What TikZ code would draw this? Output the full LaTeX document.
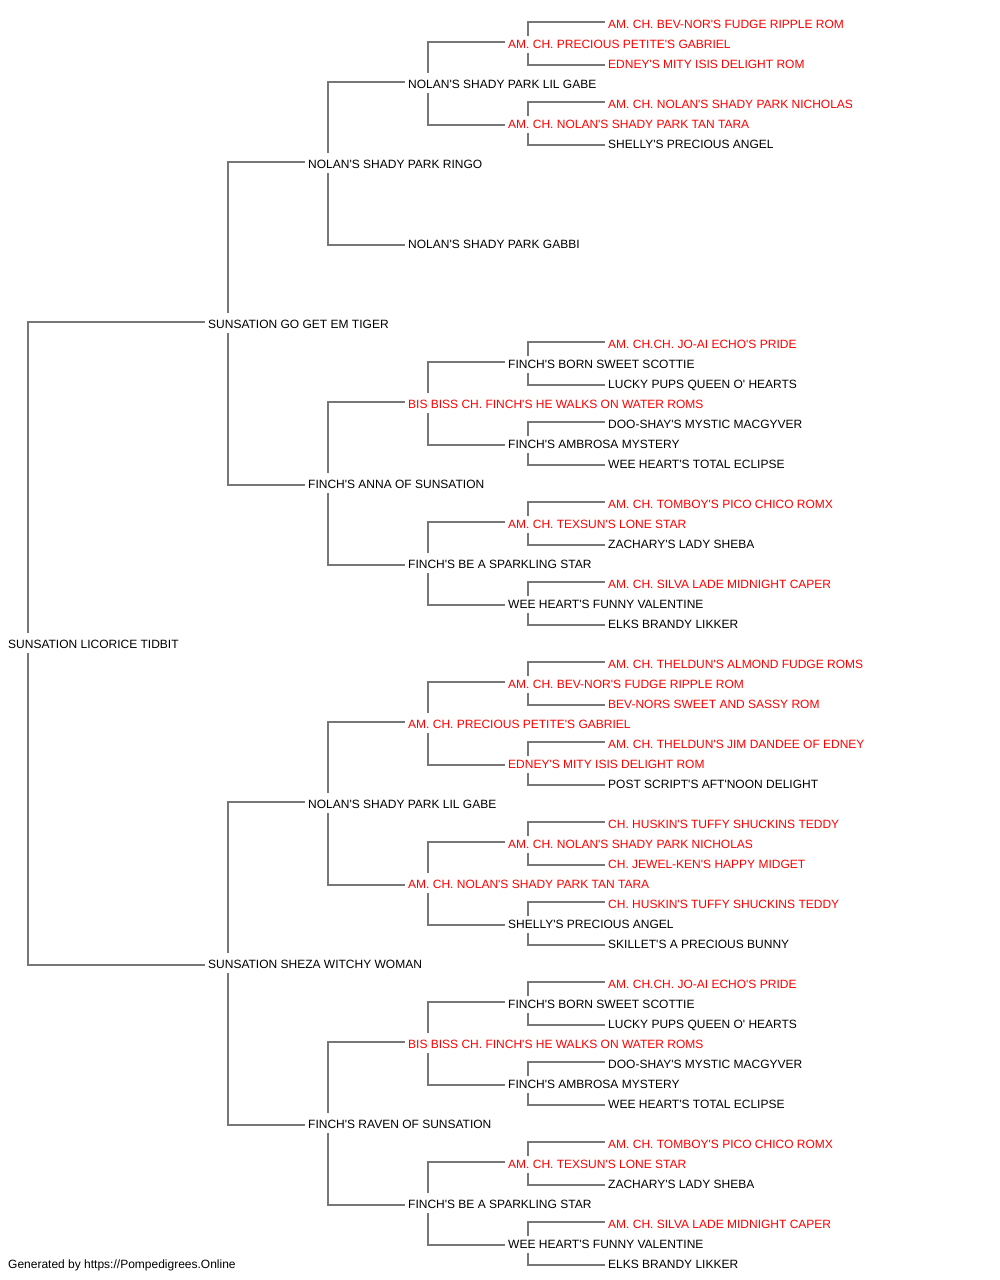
\documentclass[tikz,border=0pt]{standalone}
\usepackage{fontspec}
\setmainfont{Liberation Sans}
\usetikzlibrary{calc}
\definecolor{linegray}{HTML}{777777}
\definecolor{chred}{HTML}{FF0000}
\newcommand\ap{\textquotesingle}
\begin{document}
\begin{tikzpicture}[x=1pt,y=-1pt,
  lbl/.style={anchor=west, inner sep=0pt, text height=8.6pt, text depth=0pt, font=\fontsize{12}{14}\selectfont},
  link/.style={draw=linegray, line width=1.7pt}]
\useasboundingbox (0,0) rectangle (1000,1280);
\foreach \r/\g/\c/\t in {
 31/8/black/SUNSATION LICORICE TIDBIT,
 15/208/black/SUNSATION GO GET EM TIGER,
 47/208/black/SUNSATION SHEZA WITCHY WOMAN,
 7/308/black/NOLAN\ap S SHADY PARK RINGO,
 23/308/black/FINCH\ap S ANNA OF SUNSATION,
 39/308/black/NOLAN\ap S SHADY PARK LIL GABE,
 55/308/black/FINCH\ap S RAVEN OF SUNSATION,
 3/408/black/NOLAN\ap S SHADY PARK LIL GABE,
 11/408/black/NOLAN\ap S SHADY PARK GABBI,
 19/408/chred/BIS BISS CH. FINCH\ap S HE WALKS ON WATER ROMS,
 27/408/black/FINCH\ap S BE A SPARKLING STAR,
 35/408/chred/AM. CH. PRECIOUS PETITE\ap S GABRIEL,
 43/408/chred/AM. CH. NOLAN\ap S SHADY PARK TAN TARA,
 51/408/chred/BIS BISS CH. FINCH\ap S HE WALKS ON WATER ROMS,
 59/408/black/FINCH\ap S BE A SPARKLING STAR,
 1/508/chred/AM. CH. PRECIOUS PETITE\ap S GABRIEL,
 5/508/chred/AM. CH. NOLAN\ap S SHADY PARK TAN TARA,
 17/508/black/FINCH\ap S BORN SWEET SCOTTIE,
 21/508/black/FINCH\ap S AMBROSA MYSTERY,
 25/508/chred/AM. CH. TEXSUN\ap S LONE STAR,
 29/508/black/WEE HEART\ap S FUNNY VALENTINE,
 33/508/chred/AM. CH. BEV-NOR\ap S FUDGE RIPPLE ROM,
 37/508/chred/EDNEY\ap S MITY ISIS DELIGHT ROM,
 41/508/chred/AM. CH. NOLAN\ap S SHADY PARK NICHOLAS,
 45/508/black/SHELLY\ap S PRECIOUS ANGEL,
 49/508/black/FINCH\ap S BORN SWEET SCOTTIE,
 53/508/black/FINCH\ap S AMBROSA MYSTERY,
 57/508/chred/AM. CH. TEXSUN\ap S LONE STAR,
 61/508/black/WEE HEART\ap S FUNNY VALENTINE,
 0/608/chred/AM. CH. BEV-NOR\ap S FUDGE RIPPLE ROM,
 2/608/chred/EDNEY\ap S MITY ISIS DELIGHT ROM,
 4/608/chred/AM. CH. NOLAN\ap S SHADY PARK NICHOLAS,
 6/608/black/SHELLY\ap S PRECIOUS ANGEL,
 16/608/chred/AM. CH.CH. JO-AI ECHO\ap S PRIDE,
 18/608/black/LUCKY PUPS QUEEN O\ap{} HEARTS,
 20/608/black/DOO-SHAY\ap S MYSTIC MACGYVER,
 22/608/black/WEE HEART\ap S TOTAL ECLIPSE,
 24/608/chred/AM. CH. TOMBOY\ap S PICO CHICO ROMX,
 26/608/black/ZACHARY\ap S LADY SHEBA,
 28/608/chred/AM. CH. SILVA LADE MIDNIGHT CAPER,
 30/608/black/ELKS BRANDY LIKKER,
 32/608/chred/AM. CH. THELDUN\ap S ALMOND FUDGE ROMS,
 34/608/chred/BEV-NORS SWEET AND SASSY ROM,
 36/608/chred/AM. CH. THELDUN\ap S JIM DANDEE OF EDNEY,
 38/608/black/POST SCRIPT\ap S AFT\ap NOON DELIGHT,
 40/608/chred/CH. HUSKIN\ap S TUFFY SHUCKINS TEDDY,
 42/608/chred/CH. JEWEL-KEN\ap S HAPPY MIDGET,
 44/608/chred/CH. HUSKIN\ap S TUFFY SHUCKINS TEDDY,
 46/608/black/SKILLET\ap S A PRECIOUS BUNNY,
 48/608/chred/AM. CH.CH. JO-AI ECHO\ap S PRIDE,
 50/608/black/LUCKY PUPS QUEEN O\ap{} HEARTS,
 52/608/black/DOO-SHAY\ap S MYSTIC MACGYVER,
 54/608/black/WEE HEART\ap S TOTAL ECLIPSE,
 56/608/chred/AM. CH. TOMBOY\ap S PICO CHICO ROMX,
 58/608/black/ZACHARY\ap S LADY SHEBA,
 60/608/chred/AM. CH. SILVA LADE MIDNIGHT CAPER,
 62/608/black/ELKS BRANDY LIKKER}
 {\node[lbl, text=\c] (r\r) at (\g, {24+20*\r}) {\t};}
\node[lbl] (footer) at (8,1264) {Generated by https://Pompedigrees.Online};
\foreach \p/\s/\gu in {31/16/11, 15/8/11, 47/8/11, 7/4/11, 23/4/11, 39/4/11, 55/4/11,
  3/2/11, 19/2/11, 27/2/11, 35/2/11, 43/2/11, 51/2/11, 59/2/11,
  1/1/8, 5/1/8, 17/1/8, 21/1/8, 25/1/8, 29/1/8, 33/1/8, 37/1/8, 41/1/8, 45/1/8,
  49/1/8, 53/1/8, 57/1/8, 61/1/8}
{
  \pgfmathtruncatemacro\u{\p-\s}
  \pgfmathtruncatemacro\l{\p+\s}
  \draw[link] ($(r\p.west)+(20,-\gu)$) |- ($(r\u.west)+(-3,-2)$);
  \draw[link] ($(r\p.west)+(20,9)$) |- ($(r\l.west)+(-3,1)$);
}
\end{tikzpicture}
\end{document}
